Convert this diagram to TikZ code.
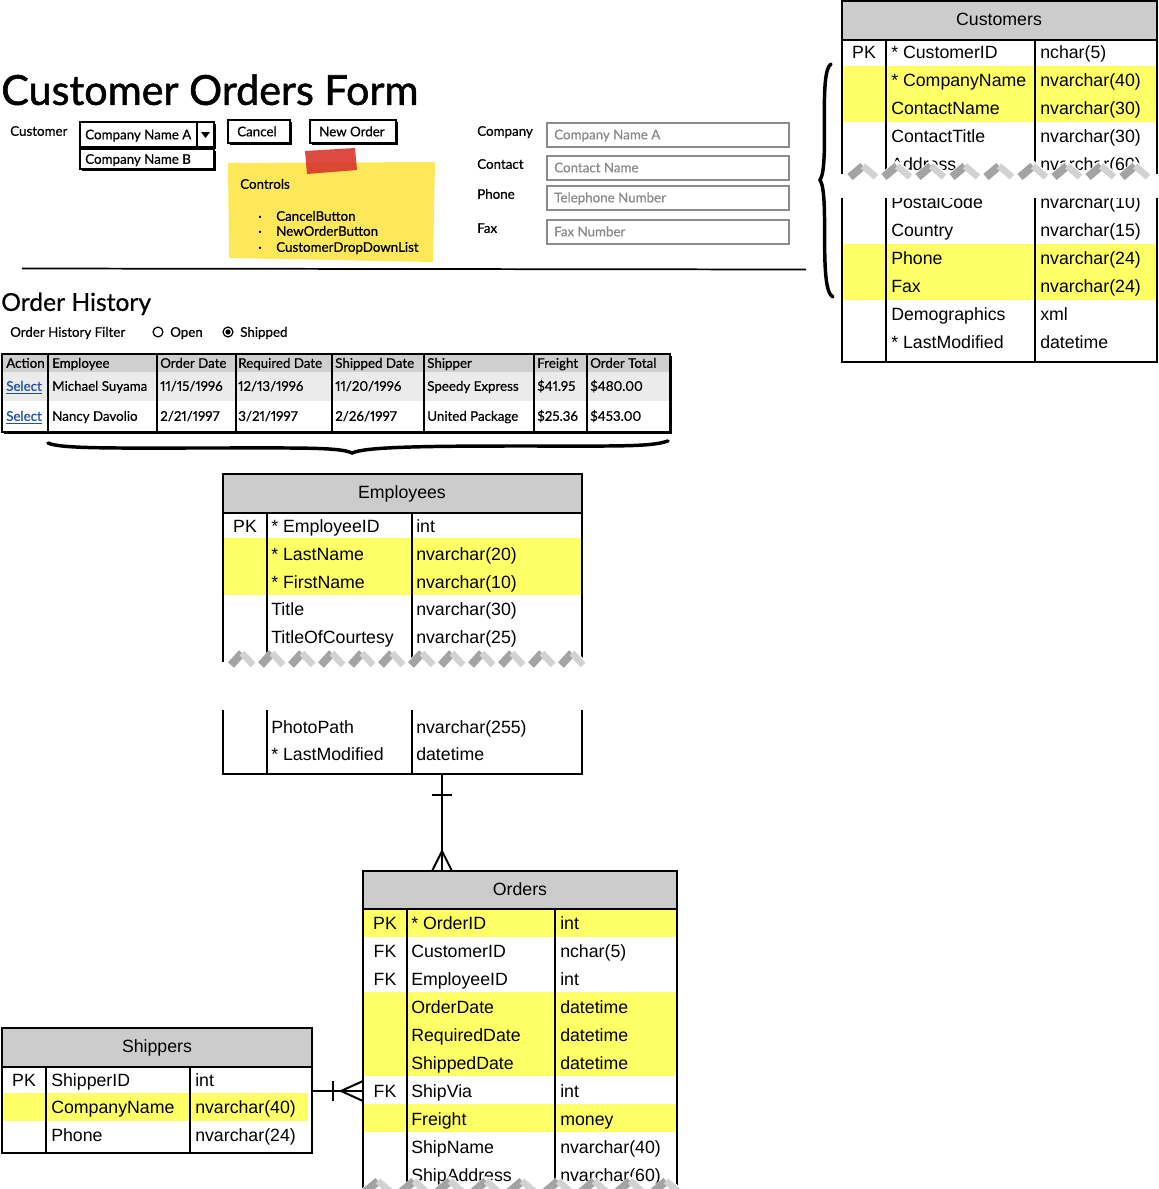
\documentclass[tikz,border=0pt]{standalone}
\usepackage{fontspec}
\usetikzlibrary{shadows}
\newfontfamily\mockfont{Lato}[Numbers=Proportional, FakeBold=0.6]
\newfontfamily\mocktitle{Lato}[FakeBold=1.3]
\newfontfamily\erdfont{Liberation Sans}
\definecolor{hdrgray}{HTML}{CCCCCC}
\definecolor{hilite}{HTML}{FFFF66}
\definecolor{notey}{HTML}{FFE75A}
\definecolor{tape}{HTML}{D9362E}
\definecolor{boxgray}{HTML}{8C8C8C}
\definecolor{hintgray}{HTML}{8A8A8A}
\definecolor{gridhdr}{HTML}{CFCFCF}
\definecolor{gridrow}{HTML}{EBEBEB}
\definecolor{linkblue}{HTML}{1F4FA0}

\tikzset{
	mock/.style={font=\mockfont\fontsize{10}{12}\selectfont, inner sep=0pt, anchor=west, text height=7.2pt, text depth=0pt},
	hint/.style={mock, text=hintgray},
	erd/.style={font=\erdfont\fontsize{13.3}{16}\selectfont, inner sep=0pt, anchor=west, text height=9.5pt, text depth=0pt},
	erdkey/.style={erd, anchor=center},
	tbl/.style={line width=1.5pt},
	sketchbtn/.style={draw, line width=1.1pt, fill=white, drop shadow={shadow xshift=1.5pt, shadow yshift=-1.5pt, fill=black, opacity=1}},
	inbox/.style={draw=boxgray, line width=1.5pt},
	darkedge/.style={line width=6pt, gray!72},
	lightedge/.style={line width=5pt, gray!35},
	rel/.style={line width=1.5pt},
	brace/.style={line width=2.6pt, line cap=round}
}

\begin{document}
\begin{tikzpicture}[x=0.75pt,y=-0.75pt]

	\useasboundingbox (0,0) rectangle (1159,1189);

	% form
	\node [mock, font=\mocktitle\fontsize{31}{36}\selectfont, text height=22.3pt] (title) at (1,90) {Customer Orders Form};

	\node [mock] (custlbl) at (10,131) {Customer};
	\draw [sketchbtn] (80,122) rectangle (214,147);
	\draw [line width=1.1pt] (197,122) -- (197,147);
	\fill (201,132) -- (210,132) -- (205.5,138) -- cycle;
	\node [mock] (ddla) at (85,134.5) {Company Name A};
	\draw [sketchbtn] (80,149) rectangle (214,169);
	\node [mock] (ddlb) at (85,159) {Company Name B};

	\draw [sketchbtn] (228,120) rectangle (290,143);
	\node [mock] (cancel) at (237,131.5) {Cancel};
	\draw [sketchbtn] (310,120) rectangle (396,143);
	\node [mock] (neworder) at (319,131.5) {New Order};

	\fill [notey] (228,163) -- (435,162) -- (433,262) -- (229,258) -- cycle;
	\fill [tape, opacity=0.9] (305,151) -- (355,148) -- (357,170) -- (307,174) -- cycle;
	\node [mock] (controls) at (240,184) {Controls};
	\foreach \y/\item in {216/CancelButton, 231/NewOrderButton, 247/CustomerDropDownList} {
		\node [mock] (dot\y) at (258,\y) {·};
		\node [mock] (item\y) at (276,\y) {\item};
	}

	\foreach \y/\lbl/\hnt in {123/Company/Company Name A, 156/Contact/Contact Name, 186/Phone/Telephone Number, 220/Fax/Fax Number} {
		\node [mock] (lbl\y) at (477,\y+8) {\lbl};
		\draw [inbox] (547,\y) rectangle (789,\y+24);
		\node [hint] (hint\y) at (554,\y+11.5) {\hnt};
	}

	\draw [line width=1.3pt] (22,268.5) -- (806,269.5);

	% order history
	\node [mock, font=\mockfont\fontsize{18.5}{22}\selectfont, text height=13.3pt] (history) at (1,302) {Order History};
	\node [mock] (filter) at (10,332) {Order History Filter};
	\draw [line width=0.9pt] (158,332) circle (3.7pt);
	\node [mock] (open) at (170,332) {Open};
	\draw [line width=0.9pt] (228,332) circle (3.7pt);
	\fill (228,332) circle (2pt);
	\node [mock] (shipped) at (240,332) {Shipped};

	\draw [sketchbtn] (2,354) rectangle (670,432);
	\fill [gridhdr] (3,355) rectangle (669,372);
	\fill [gridrow] (3,372) rectangle (669,401);
	\foreach \x in {48,157,236,332,424,534,587}
		\draw [line width=1.2pt] (\x,354) -- (\x,432);
	\draw [line width=1.5pt] (2,354) rectangle (670,432);

	\node [mock] (gh0) at (6,363) {Action};
	\node [mock, text=linkblue] (ga0) at (6,386) {\underline{Select}};
	\node [mock, text=linkblue] (gb0) at (6,416) {\underline{Select}};
	\foreach \x/\h/\a/\b [count=\c] in {52/Employee/Michael Suyama/Nancy Davolio, 160/Order Date/{11/15/1996}/{2/21/1997}, 238/Required Date/{12/13/1996}/{3/21/1997}, 335/Shipped Date/{11/20/1996}/{2/26/1997}, 427/Shipper/Speedy Express/United Package, 537/Freight/\$41.95/\$25.36, 590/Order Total/\$480.00/\$453.00} {
		\node [mock] (gh\c) at (\x,363) {\h};
		\node [mock] (ga\c) at (\x,386) {\a};
		\node [mock] (gb\c) at (\x,416) {\b};
	}

	\draw [brace] (48,443) .. controls (60,449) and (120,448) .. (200,448) .. controls (300,448) and (340,447) .. (352,453) .. controls (365,447) and (420,446) .. (520,446) .. controls (620,446) and (650,447) .. (668,441);

	% customers
	\fill [hdrgray] (842,1) rectangle (1157,40);
	\fill [hilite] (843,66) rectangle (1156,122);
	\fill [hilite] (843,244) rectangle (1156,300);
	\draw [tbl] (842,1) rectangle (1157,362);
	\draw [tbl] (842,40) -- (1157,40);
	\draw [tbl] (886,40) -- (886,362);
	\draw [tbl] (1035,40) -- (1035,362);
	\node [erdkey] (custhdr) at (999,19) {Customers};
	\foreach \y/\k/\n/\t in {52/PK/* CustomerID/nchar(5), 80/{}/* CompanyName/nvarchar(40), 108/{}/ContactName/nvarchar(30), 136/{}/ContactTitle/nvarchar(30), 164/{}/Address/nvarchar(60), 202/{}/PostalCode/nvarchar(10), 230/{}/Country/nvarchar(15), 258/{}/Phone/nvarchar(24), 286/{}/Fax/nvarchar(24), 314/{}/Demographics/xml, 342/{}/* LastModified/datetime} {
		\node [erdkey] (custk\y) at (864,\y) {\k};
		\node [erd] (custn\y) at (891,\y) {\n};
		\node [erd] (custt\y) at (1040,\y) {\t};
	}
	\fill [white] (836,174) rectangle (1163,197.5);
	\foreach \x in {846,880,...,1118} {
		\fill [white] (\x,174) -- (\x+17,160) -- (\x+34,174) -- cycle;
		\draw [darkedge] (\x+4,177) -- (\x+17,166);
		\draw [lightedge] (\x+17,166) -- (\x+30,177);
	}
	\draw [brace] (831,64) .. controls (818,72) and (830,165) .. (820,180) .. controls (830,195) and (818,290) .. (833,297);

	% employees
	\fill [hdrgray] (223,474) rectangle (582,513);
	\fill [hilite] (224,538) rectangle (581,595);
	\draw [tbl] (223,774) -- (223,474) -- (582,474) -- (582,774) -- cycle;
	\draw [tbl] (223,513) -- (582,513);
	\draw [tbl] (267,513) -- (267,774);
	\draw [tbl] (412,513) -- (412,774);
	\node [erdkey] (emphdr) at (402,492) {Employees};
	\foreach \y/\k/\n/\t in {526/PK/* EmployeeID/int, 554/{}/* LastName/nvarchar(20), 582/{}/* FirstName/nvarchar(10), 609/{}/Title/nvarchar(30), 637/{}/TitleOfCourtesy/nvarchar(25), 727/{}/PhotoPath/nvarchar(255), 754/{}/* LastModified/datetime} {
		\node [erdkey] (empk\y) at (245,\y) {\k};
		\node [erd] (empn\y) at (271,\y) {\n};
		\node [erd] (empt\y) at (416,\y) {\t};
	}
	\fill [white] (218,662) rectangle (588,710);
	\foreach \x in {227,257,...,557} {
		\fill [white] (\x,662) -- (\x+15,647) -- (\x+30,662) -- cycle;
		\draw [darkedge] (\x+4,665) -- (\x+15,653);
		\draw [lightedge] (\x+15,653) -- (\x+26,665);
	}

	% orders
	\fill [hdrgray] (363,871) rectangle (677,909);
	\fill [hilite] (364,909) rectangle (676,937);
	\fill [hilite] (364,992) rectangle (676,1076);
	\fill [hilite] (364,1104) rectangle (676,1132);
	\draw [tbl] (363,1189) -- (363,871) -- (677,871) -- (677,1189);
	\draw [tbl] (363,909) -- (677,909);
	\draw [tbl] (407,909) -- (407,1189);
	\draw [tbl] (555,909) -- (555,1189);
	\node [erdkey] (ordhdr) at (520,889) {Orders};
	\foreach \y/\k/\n/\t in {923/PK/* OrderID/int, 951/FK/CustomerID/nchar(5), 979/FK/EmployeeID/int, 1007/{}/OrderDate/datetime, 1035/{}/RequiredDate/datetime, 1063/{}/ShippedDate/datetime, 1091/FK/ShipVia/int, 1119/{}/Freight/money, 1147/{}/ShipName/nvarchar(40), 1175/{}/ShipAddress/nvarchar(60)} {
		\node [erdkey] (ordk\y) at (385,\y) {\k};
		\node [erd] (ordn\y) at (411,\y) {\n};
		\node [erd] (ordt\y) at (560,\y) {\t};
	}
	\foreach \x in {360,396,...,648} {
		\fill [white] (\x,1190) -- (\x+18,1176) -- (\x+36,1190) -- cycle;
		\draw [darkedge] (\x+4,1193) -- (\x+18,1181);
		\draw [lightedge] (\x+18,1181) -- (\x+32,1193);
	}

	% shippers
	\fill [hdrgray] (2,1028) rectangle (312,1067);
	\fill [hilite] (3,1093) rectangle (308,1121);
	\draw [tbl] (2,1028) rectangle (312,1153);
	\draw [tbl] (2,1067) -- (312,1067);
	\draw [tbl] (46,1067) -- (46,1153);
	\draw [tbl] (190,1067) -- (190,1153);
	\node [erdkey] (shiphdr) at (157,1046) {Shippers};
	\foreach \y/\k/\n/\t in {1080/PK/ShipperID/int, 1107/{}/CompanyName/nvarchar(40), 1135/{}/Phone/nvarchar(24)} {
		\node [erdkey] (shipk\y) at (24,\y) {\k};
		\node [erd] (shipn\y) at (51,\y) {\n};
		\node [erd] (shipt\y) at (195,\y) {\t};
	}

	% relations
	\coordinate (empfoot) at (442,774);
	\coordinate (ordhead) at (442,871);
	\draw [rel] (empfoot) -- (ordhead);
	\draw [rel] (432,795) -- (452,795);
	\draw [rel] (432,871) -- (442,851) -- (452,871);

	\coordinate (shipside) at (312,1091);
	\coordinate (ordside) at (363,1091);
	\draw [rel] (shipside) -- (ordside);
	\draw [rel] (333,1081) -- (333,1101);
	\draw [rel] (363,1081) -- (341,1091) -- (363,1101);

\end{tikzpicture}
\end{document}
